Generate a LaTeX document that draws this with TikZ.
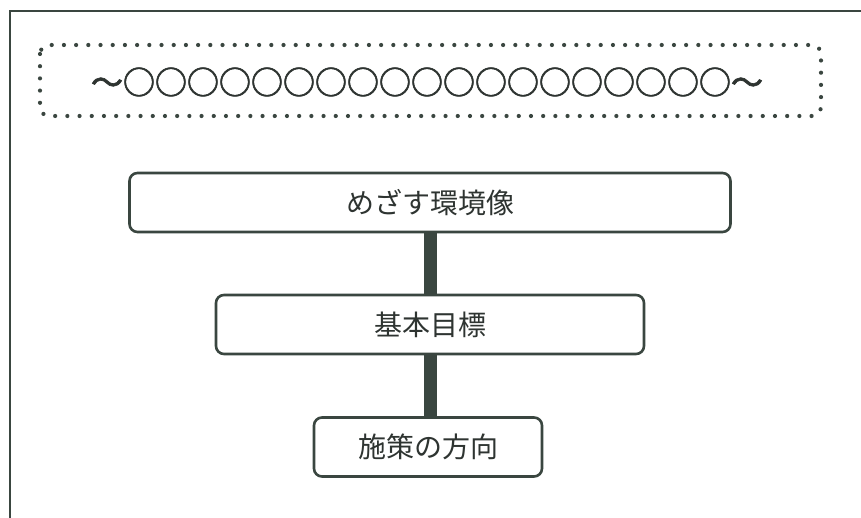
\documentclass[tikz,border=0pt]{standalone}
\usepackage{fontspec}
\newfontfamily\jp{Noto Sans CJK JP}
\newfontfamily\jpthick{Noto Sans CJK JP}[FakeBold=2.2]
\definecolor{ink}{HTML}{3A4640}
\definecolor{txt}{HTML}{2E3431}
\begin{document}
\begin{tikzpicture}[x=1bp,y=-1bp,
  box/.style={draw=ink, line width=2.6bp, rounded corners=8bp, fill=white,
    minimum height=59bp, inner sep=0pt, text=txt,
    font=\jp\fontsize{28bp}{34bp}\selectfont},
  bar/.style={draw=ink, line width=13bp},
  frame/.style={draw=ink, line width=2bp},
  dotbox/.style={draw=ink, line width=4.2bp, line cap=round,
    dash pattern=on 0pt off 12.2bp, rounded corners=9bp}]
\useasboundingbox (0,0) rectangle (861,518);
% outer frame (partly cut off)
\draw[frame] (10,518) -- (10,11) -- (861,11);
% dotted title box
\draw[dotbox] (40,45) rectangle (821,116);
\node[text=txt, font=\jpthick\fontsize{32bp}{36bp}\selectfont, inner sep=0pt] (title) at (427,82)
  {〜○○○○○○○○○○○○○○○○○○○〜};
% boxes
\node[box, minimum width=601bp] (b1) at (430,202.5) {めざす環境像};
\node[box, minimum width=428bp] (b2) at (430,324.5) {基本目標};
\node[box, minimum width=228bp] (b3) at (428,447) {施策の方向};
% connectors
\draw[bar] (b1.south) -- (b1.south |- b2.north);
\draw[bar] (b2.south) -- (b2.south |- b3.north);
\end{tikzpicture}
\end{document}
